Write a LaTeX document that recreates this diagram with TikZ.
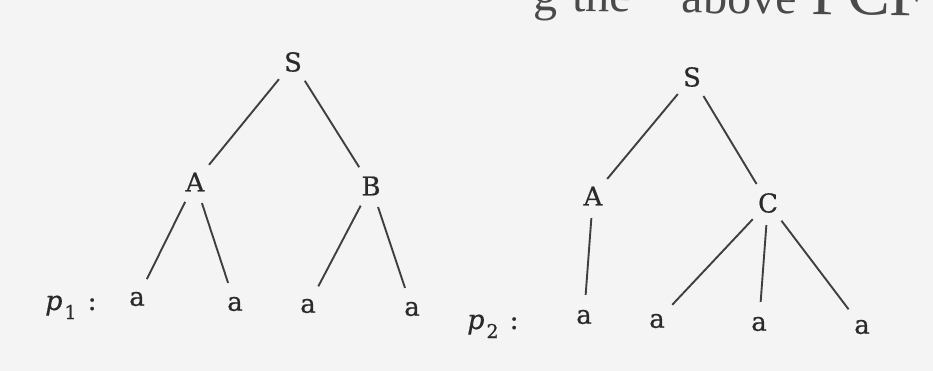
\documentclass[tikz,border=0pt]{standalone}
\usepackage{fontspec}
\setmainfont{Liberation Serif}
\newfontfamily\scanfont[FakeBold=0.6]{DejaVu Serif}
\usepackage{xcolor}
\usetikzlibrary{positioning}
\definecolor{ink}{HTML}{2A2A2A}
\definecolor{paper}{HTML}{F4F4F4}
\tikzset{
  sym/.style={circle,minimum size=44pt,inner sep=0pt,text=ink,
    font=\scanfont\fontsize{26}{26}\selectfont},
  leaf/.style={sym},
  branch/.style={line width=1.9pt,draw=ink!90},
  tag/.style={anchor=base west,inner sep=0pt,text=ink,
    font=\scanfont\fontsize{27}{27}\selectfont},
  bleed/.style={anchor=base west,inner sep=0pt,text=ink!85,
    font=\fontsize{48}{48}\selectfont},
}
\newcommand{\treetag}[1]{\textit{p}\hspace{2pt}\raisebox{-9pt}{\fontsize{19}{19}\selectfont #1}\hspace{11pt}:}

\begin{document}
\begin{tikzpicture}[x=1pt,y=-1pt]
  \useasboundingbox[fill=paper] (0,0) rectangle (933,371);
  \node[bleed,rotate=-0.7] (head) at (533,11)
    {g\hspace{15pt}the\hspace{51pt}above\hspace{15pt}{\fontsize{64}{64}\selectfont PCF}};

  % parse tree p1
  \node[sym] (s1) at (293,62) {S};
  \node[sym] (a1) at (195,182) {A};
  \node[sym] (b1) at (371,186) {B};
  \node[leaf] (x11) at (137,299) {a};
  \node[leaf] (x12) at (235,304) {a};
  \node[leaf] (x13) at (308,306) {a};
  \node[leaf] (x14) at (412,309) {a};
  \node[tag] (p1) at (45,310) {\treetag{1}};

  \draw[branch] (s1) -- (a1);
  \draw[branch] (s1) -- (b1);
  \draw[branch] (a1) -- (x11);
  \draw[branch] (a1) -- (x12);
  \draw[branch] (b1) -- (x13);
  \draw[branch] (b1) -- (x14);

  % parse tree p2
  \node[sym] (s2) at (692,77) {S};
  \node[sym] (a2) at (593,196) {A};
  \node[sym] (c2) at (768,203) {C};
  \node[leaf] (x21) at (584,317) {a};
  \node[leaf] (x22) at (657,321) {a};
  \node[leaf] (x23) at (759,324) {a};
  \node[leaf] (x24) at (862,327) {a};
  \node[tag] (p2) at (467,329) {\treetag{2}};

  \draw[branch] (s2) -- (a2);
  \draw[branch] (s2) -- (c2);
  \draw[branch] (a2) -- (x21);
  \draw[branch] (c2) -- (x22);
  \draw[branch] (c2) -- (x23);
  \draw[branch] (c2) -- (x24);
\end{tikzpicture}
\end{document}
